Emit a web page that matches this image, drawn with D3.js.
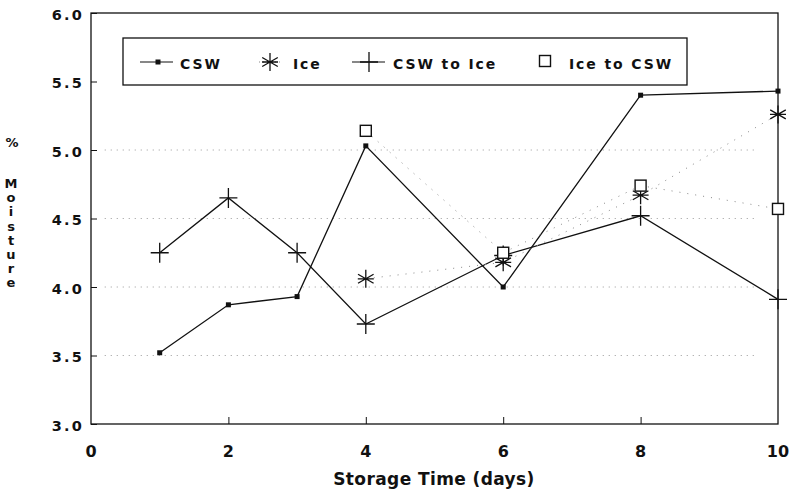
<!DOCTYPE html>
<html lang="en">
<head>
<meta charset="utf-8">
<title>Moisture</title>
<script src="https://d3js.org/d3.v7.min.js"></script>
<style>
body { margin: 0; background: white; }
text { font-family: "DejaVu Sans", "Liberation Sans", sans-serif; font-weight: bold; fill: #111; }
</style>
</head>
<body>
<script>
// data
var days = [1, 2, 3, 4, 6, 8, 10];
var csw = [3.52, 3.87, 3.93, 5.03, 4.00, 5.40, 5.43];
var cswToIce = [4.25, 4.65, 4.25, 3.73, 4.23, 4.52, 3.91];
var iceDays = [4, 6, 8, 10];
var ice = [4.06, 4.18, 4.67, 5.26];
var iceToCsw = [5.14, 4.25, 4.74, 4.57];
var xTicks = [0, 2, 4, 6, 8, 10];
var yTicks = [3.0, 3.5, 4.0, 4.5, 5.0, 5.5, 6.0];
var gridVals = [3.5, 4.0, 4.5, 5.0];

var W = 789, H = 496;
var svg = d3.select("body").append("svg").attr("width", W).attr("height", H);

var x = d3.scaleLinear().domain([0, 10]).range([91, 778]);
var y = d3.scaleLinear().domain([3, 6]).range([424, 13]);

// faint dotted grid
svg.selectAll(".grid").data(gridVals).enter().append("line")
  .attr("x1", x(0.2)).attr("x2", x(9.7))
  .attr("y1", function(d) { return y(d); }).attr("y2", function(d) { return y(d); })
  .attr("stroke", "#999").attr("stroke-width", 1).attr("stroke-dasharray", "1,5");

// frame
svg.append("rect").attr("x", x(0)).attr("y", y(6)).attr("width", x(10) - x(0)).attr("height", y(3) - y(6))
  .attr("fill", "none").attr("stroke", "#111").attr("stroke-width", 1.3);

// axes with inward ticks
var yAxis = d3.axisRight(y).tickValues(yTicks).tickSize(6).tickFormat("");
svg.append("g").attr("transform", "translate(" + x(0) + ",0)").call(yAxis)
  .call(function(g) { g.select(".domain").remove(); g.selectAll("line").attr("stroke", "#111"); });
var xAxis = d3.axisTop(x).tickValues([2, 4, 6, 8]).tickSize(7).tickFormat("");
svg.append("g").attr("transform", "translate(0," + y(3) + ")").call(xAxis)
  .call(function(g) { g.select(".domain").remove(); g.selectAll("line").attr("stroke", "#111"); });

svg.selectAll(".ylab").data(yTicks).enter().append("text")
  .attr("x", 84).attr("y", function(d) { return y(d) + 6.5; })
  .attr("text-anchor", "end").attr("font-size", 14.5).attr("letter-spacing", 2.2)
  .text(function(d) { return d.toFixed(1); });
svg.selectAll(".xlab").data(xTicks).enter().append("text")
  .attr("x", function(d) { return x(d); }).attr("y", 457)
  .attr("text-anchor", "middle").attr("font-size", 16)
  .text(function(d) { return d; });

svg.append("text").attr("x", 434).attr("y", 485).attr("text-anchor", "middle")
  .attr("font-size", 17).attr("letter-spacing", 0.4).text("Storage Time (days)");

svg.append("text").attr("x", 12).attr("y", 147).attr("text-anchor", "middle")
  .attr("font-size", 13).text("%");
svg.append("text").attr("x", 11).attr("y", 176)
  .style("writing-mode", "vertical-rl").style("text-orientation", "upright")
  .attr("font-size", 13).attr("letter-spacing", -0.8)
  .text("Moisture");

// lines
var solid = d3.line().x(function(d) { return x(d[0]); }).y(function(d) { return y(d[1]); });
var cswPts = days.map(function(d, i) { return [d, csw[i]]; });
var ctiPts = days.map(function(d, i) { return [d, cswToIce[i]]; });
var icePts = iceDays.map(function(d, i) { return [d, ice[i]]; });
var itcPts = iceDays.map(function(d, i) { return [d, iceToCsw[i]]; });

svg.append("path").attr("d", solid(cswPts)).attr("fill", "none").attr("stroke", "#111").attr("stroke-width", 1.3);
svg.append("path").attr("d", solid(ctiPts)).attr("fill", "none").attr("stroke", "#111").attr("stroke-width", 1.3);
svg.append("path").attr("d", solid(icePts)).attr("fill", "none").attr("stroke", "#888").attr("stroke-width", 1).attr("stroke-dasharray", "1,7");
svg.append("path").attr("d", solid(itcPts)).attr("fill", "none").attr("stroke", "#888").attr("stroke-width", 1).attr("stroke-dasharray", "1,7");

// marker helpers
function dot(g, cx, cy) {
  g.append("rect").attr("x", cx - 2.5).attr("y", cy - 2.5).attr("width", 5).attr("height", 5).attr("fill", "#111");
}
function plus(g, cx, cy) {
  g.append("path").attr("d", "M" + (cx - 9) + "," + cy + "H" + (cx + 9) + "M" + cx + "," + (cy - 10) + "V" + (cy + 10))
    .attr("stroke", "#111").attr("stroke-width", 1.3);
}
function star(g, cx, cy) {
  var r = 9, p = "";
  [0, 60, 120].forEach(function(a) {
    var t = (a + 90) * Math.PI / 180;
    p += "M" + (cx - r * Math.cos(t)) + "," + (cy - r * Math.sin(t)) + "L" + (cx + r * Math.cos(t)) + "," + (cy + r * Math.sin(t));
  });
  p += "M" + (cx - 8) + "," + cy + "H" + (cx + 8);
  g.append("path").attr("d", p).attr("stroke", "#111").attr("stroke-width", 1.3);
}
function square(g, cx, cy) {
  g.append("rect").attr("x", cx - 5.5).attr("y", cy - 5.5).attr("width", 11).attr("height", 11)
    .attr("fill", "white").attr("stroke", "#111").attr("stroke-width", 1.4);
}

var m = svg.append("g");
cswPts.forEach(function(d) { dot(m, x(d[0]), y(d[1])); });
ctiPts.forEach(function(d) { plus(m, x(d[0]), y(d[1])); });
icePts.forEach(function(d) { star(m, x(d[0]), y(d[1])); });
itcPts.forEach(function(d) { square(m, x(d[0]), y(d[1])); });

// legend
var lg = svg.append("g");
lg.append("rect").attr("x", 123).attr("y", 38).attr("width", 564).attr("height", 47)
  .attr("fill", "white").attr("stroke", "#111").attr("stroke-width", 1.3);
var items = ["CSW", "Ice", "CSW to Ice", "Ice to CSW"];
var ly = 62;
lg.append("line").attr("x1", 140).attr("x2", 173).attr("y1", ly).attr("y2", ly).attr("stroke", "#111").attr("stroke-width", 1.2);
dot(lg, 158, ly);
lg.append("line").attr("x1", 259).attr("x2", 283).attr("y1", ly).attr("y2", ly).attr("stroke", "#888").attr("stroke-dasharray", "1,3");
star(lg, 270, ly);
lg.append("line").attr("x1", 352).attr("x2", 385).attr("y1", ly).attr("y2", ly).attr("stroke", "#111").attr("stroke-width", 1.2);
plus(lg, 369, ly);
square(lg, 545, ly - 1);
var textX = [180, 293, 393, 569];
lg.selectAll(".lt").data(items).enter().append("text")
  .attr("x", function(d, i) { return textX[i]; }).attr("y", 69)
  .attr("font-size", 14).attr("letter-spacing", 1.9)
  .text(function(d) { return d; });
</script>
</body>
</html>
